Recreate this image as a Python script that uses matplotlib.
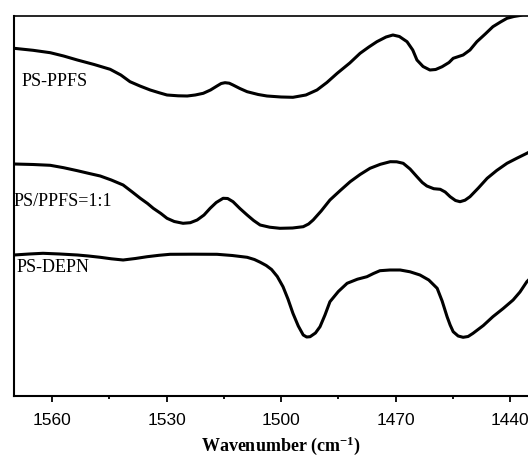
import matplotlib
matplotlib.use("Agg")
import matplotlib.pyplot as plt
from matplotlib.ticker import MultipleLocator

serif = "Liberation Serif"
plt.rcParams["mathtext.fontset"] = "custom"
plt.rcParams["mathtext.rm"] = serif
plt.rcParams["mathtext.bf"] = serif + ":bold"
plt.rcParams["mathtext.it"] = serif + ":italic"

# Wavenumber (cm^-1) and intensity (arbitrary units)
ppfs_wn = [1570, 1565, 1560.5, 1557, 1553.4, 1549, 1544.8, 1542, 1539.6, 1537, 1534.3,
           1532, 1529.9, 1527, 1524.6, 1522.5, 1520.4, 1518.5, 1516.8, 1515.7, 1514.7,
           1513.6, 1512.6, 1510.8, 1508.9, 1506, 1503.7, 1500, 1496.9, 1493.5, 1490.6,
           1488, 1485.3, 1482, 1479.3, 1477, 1474.9, 1472.5, 1470.7, 1469, 1467.0,
           1465.5, 1464.4, 1462.8, 1461.0, 1459.5, 1457.8, 1456, 1454.9, 1452.3, 1450.5,
           1448.7, 1446.5, 1444.5, 1442.5, 1440.8, 1439, 1437.4, 1432]
ppfs_val = [347.7, 345.7, 343.3, 340, 336, 331.5, 326.7, 321, 314.3, 310, 306,
            303.3, 301, 300.2, 300, 301, 302.7, 306, 310, 312.5, 313.3,
            312.8, 311, 307.5, 304.3, 301.5, 300, 299, 298.7, 301, 306,
            313.5, 322.7, 333, 342.7, 349, 354.3, 359, 361, 359.5, 354.3,
            346, 336, 329.5, 326, 326.5, 329.3, 333.5, 337.7, 341, 346,
            354.3, 362, 369.3, 374, 377.7, 379.5, 380.5, 388]

mix_wn = [1570, 1565, 1560.5, 1557, 1553.4, 1550.5, 1547.4, 1544.5, 1541.4, 1539, 1536.9,
          1535, 1533.5, 1531.5, 1529.9, 1528, 1525.7, 1523.8, 1522.0, 1520.2, 1518.6,
          1517, 1515.2, 1514, 1512.6, 1510.8, 1508.9, 1507.2, 1505.5, 1503, 1500.3,
          1497, 1494.2, 1492.8, 1491.6, 1489.5, 1487.2, 1484.5, 1481.9, 1479.3, 1476.7,
          1474, 1471.4, 1469.7, 1468.0, 1466.2, 1464.4, 1463, 1461.8, 1460, 1458.3,
          1457, 1455.7, 1454.3, 1453.1, 1451.8, 1450.5, 1448.3, 1446.0, 1443.5, 1440.8,
          1438.2, 1435.6, 1432]
mix_val = [232, 231.5, 230.7, 228.3, 225.3, 222.7, 220, 216, 211, 204, 197.7,
           192.5, 187.7, 182.5, 177.7, 174.5, 172.7, 173.3, 176, 181, 187.7,
           193.5, 197.7, 197.5, 194.3, 187.5, 181, 175.5, 171, 168.8, 167.7,
           168, 169.3, 172, 176, 185, 196, 205.5, 214.3, 221.5, 227.7,
           231.7, 234.3, 234.2, 232.7, 227, 219.3, 213.5, 210, 207.3, 206.7,
           204, 199.3, 195.5, 194.3, 195.8, 199.3, 208, 217.7, 225.5, 232.7,
           237.8, 242.7, 250]

depn_wn = [1570, 1566, 1562.4, 1558, 1553.4, 1550.5, 1547.4, 1544.5, 1541.4, 1538.2, 1535.1,
           1532, 1529.1, 1523, 1516.8, 1512.8, 1508.9, 1507, 1505.5, 1503.9, 1502.5,
           1501, 1499.5, 1498.2, 1496.9, 1495.5, 1494.2, 1493.3, 1492.4, 1491, 1489.8,
           1488.5, 1487.2, 1485, 1482.7, 1480, 1477.5, 1475.8, 1474.1, 1471.5, 1468.8,
           1466.2, 1463.6, 1461.3, 1459.1, 1457.8, 1456.5, 1455.7, 1454.9, 1453.6, 1452.3,
           1451, 1449.7, 1447, 1444.5, 1441.8, 1439.2, 1437.4, 1435.6, 1432]
depn_val = [141, 142, 142.7, 142, 141, 140, 138.7, 137.2, 136, 137.5, 139.3,
            140.7, 141.7, 141.8, 141.7, 140.5, 138.7, 136.5, 133.8, 130.5, 126.5,
            119.5, 109.3, 97, 82.7, 70, 61, 59, 59.3, 63, 69.3,
            81, 94.3, 104.5, 112.7, 116.8, 119.3, 122.5, 125.3, 126, 126,
            124.2, 121, 116, 107.7, 95, 79.3, 71, 64.3, 60, 58.7,
            59.5, 62.7, 70.5, 79.3, 87.5, 96, 104, 114.3, 128]

labels = ["PS-PPFS", "PS/PPFS=1:1", "PS-DEPN"]
xticks = [1560, 1530, 1500, 1470, 1440]

W, H = 528, 457
fig = plt.figure(figsize=(W / 100, H / 100), dpi=100)
left, right, top, bottom = 14, 548.2, 16, 396
ax = fig.add_axes([left / W, 1 - bottom / H, (right - left) / W, (bottom - top) / H])

for xs, ys in [(ppfs_wn, ppfs_val), (mix_wn, mix_val), (depn_wn, depn_val)]:
    ax.plot(xs, ys, color="black", lw=2.2, solid_joinstyle="round", solid_capstyle="round")

ax.set_xlim(1570, 1430)
ax.set_ylim(0, 380)

ax.text(1568, 315, labels[0], fontsize=13, family=serif, va="center", ha="left")
ax.text(1570.2, 194, labels[1], fontsize=13, family=serif, va="center", ha="left")
ax.text(1569.3, 128, labels[2], fontsize=13, family=serif, va="center", ha="left")

ax.set_xticks(xticks)
ax.set_xticklabels([str(t) for t in xticks], family="Liberation Sans", fontsize=12.5)
ax.xaxis.set_minor_locator(MultipleLocator(15))
ax.tick_params(axis="x", which="major", direction="out", length=4.5, width=1.3, pad=7.5)
ax.tick_params(axis="x", which="minor", direction="out", length=2.5, width=1.3)
ax.set_yticks([])
for s in ["left", "bottom"]:
    ax.spines[s].set_linewidth(1.5)
ax.spines["top"].set_linewidth(1.2)
ax.spines["right"].set_visible(False)

ax.set_xlabel(r"Wavenumber (cm$^{\mathbf{-1}}$)", family=serif, fontsize=13,
              fontweight="bold", labelpad=5)

fig.savefig("out.png", dpi=100)
